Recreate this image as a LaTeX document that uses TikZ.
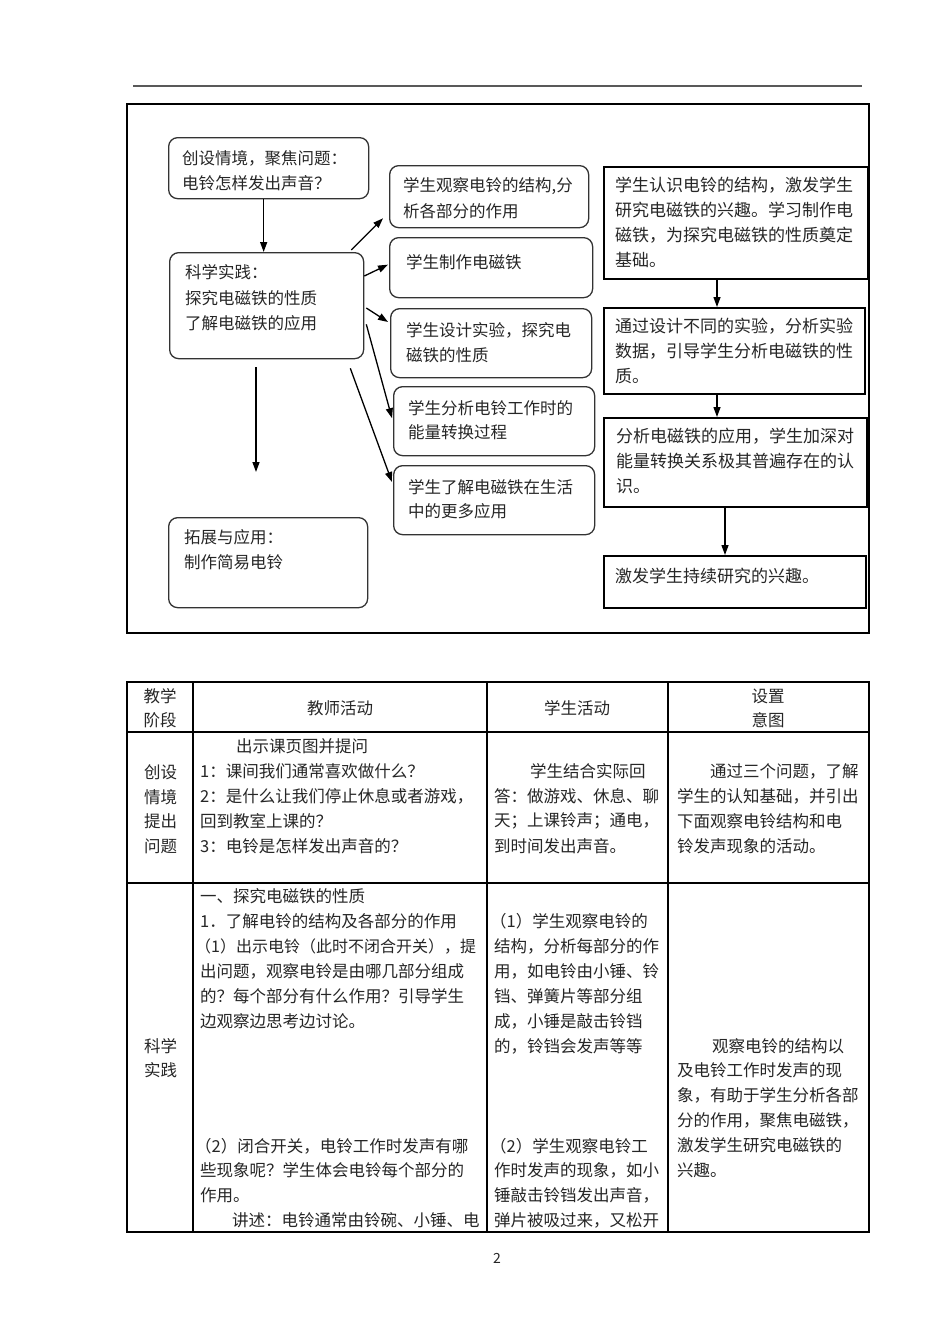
\documentclass[tikz,border=0pt]{standalone}
\usepackage{fontspec}
\setmainfont{Noto Sans CJK SC}
\usetikzlibrary{arrows.meta,calc}
\newcounter{lnc}
\newcommand\Ln[4][16.5]{\stepcounter{lnc}\node[txt,font=\fontsize{#1}{25}\selectfont] (ln\thelnc) at (#2,#3) {#4};}
\begin{document}
\begin{tikzpicture}[x=1pt,y=-1pt,
  txt/.style={anchor=west,inner sep=0pt,text=black!85},
  rbox/.style={draw=black!80,line width=1.3pt,rounded corners=9pt,anchor=north west,inner sep=0pt},
  sbox/.style={draw=black,line width=1.5pt,anchor=north west,inner sep=0pt},
  arr/.style={line width=1.3pt,-{Triangle[length=10pt,width=7pt]}},
  grid/.style={line width=1.2pt,draw=black}]
\useasboundingbox (0,0) rectangle (950,1344);
\fill[white] (0,0) rectangle (950,1344);
% header rule
\draw[line width=2pt,black!65] (133,86) -- (862,86);
% frame
\draw[line width=1.2pt] (127,104) rectangle (869,633);

% rounded boxes (left)
\node[rbox,minimum width=200pt,minimum height=61pt] (A) at (168,137) {};
\node[rbox,minimum width=194pt,minimum height=106pt] (B) at (169,252) {};
\node[rbox,minimum width=199pt,minimum height=90pt] (E) at (168,517) {};
% rounded boxes (middle)
\node[rbox,minimum width=199pt,minimum height=62pt] (C1) at (389,165) {};
\node[rbox,minimum width=203pt,minimum height=60pt] (C2) at (389,237) {};
\node[rbox,minimum width=201pt,minimum height=69pt] (C3) at (390,308) {};
\node[rbox,minimum width=201pt,minimum height=69pt] (C4) at (393,386) {};
\node[rbox,minimum width=201pt,minimum height=69pt] (C5) at (393,465) {};
% square boxes (right)
\node[sbox,minimum width=264pt,minimum height=112pt] (R1) at (603,166) {};
\node[sbox,minimum width=261pt,minimum height=86pt] (R2) at (603,307) {};
\node[sbox,minimum width=263pt,minimum height=89pt] (R3) at (603,417) {};
\node[sbox,minimum width=262pt,minimum height=52pt] (R4) at (603,555) {};

% texts in boxes
\Ln{182}{158}{创设情境，聚焦问题：}
\Ln{182}{183}{电铃怎样发出声音？}
\Ln{185}{272}{科学实践：}
\Ln{185}{298}{探究电磁铁的性质}
\Ln{185}{323}{了解电磁铁的应用}
\Ln{184}{537}{拓展与应用：}
\Ln{184}{562}{制作简易电铃}
\Ln{403}{186}{学生观察电铃的结构,分}
\Ln{403}{211}{析各部分的作用}
\Ln{406}{262}{学生制作电磁铁}
\Ln{406}{330}{学生设计实验，探究电}
\Ln{406}{355}{磁铁的性质}
\Ln{408}{408}{学生分析电铃工作时的}
\Ln{408}{432}{能量转换过程}
\Ln{408}{487}{学生了解电磁铁在生活}
\Ln{408}{511}{中的更多应用}
\Ln[17]{615}{185}{学生认识电铃的结构，激发学生}
\Ln[17]{615}{210}{研究电磁铁的兴趣。学习制作电}
\Ln[17]{615}{235}{磁铁，为探究电磁铁的性质奠定}
\Ln[17]{615}{260}{基础。}
\Ln[17]{615}{326}{通过设计不同的实验，分析实验}
\Ln[17]{615}{351}{数据，引导学生分析电磁铁的性}
\Ln[17]{615}{376}{质。}
\Ln[17]{616}{436}{分析电磁铁的应用，学生加深对}
\Ln[17]{616}{461}{能量转换关系极其普遍存在的认}
\Ln[17]{616}{486}{识。}
\Ln[17]{615}{576}{激发学生持续研究的兴趣。}

% arrows
\draw[arr] ($(A.south)+(-5,0)$) -- ($(B.north)+(-3,0)$);
\draw[arr] ($(B.north east)+(-13,-2)$) -- ($(C1.south west)+(-6,-10)$);
\draw[arr] ($(B.north east)+(0,24)$) -- ($(C2.west)+(-1,-3)$);
\draw[arr] ($(B.north east)+(2,56)$) -- ($(C3.north west)+(-2,14)$);
\draw[arr] ($(B.south east)+(2,-35)$) -- ($(C4.west)+(-1,-3)$);
\coordinate (b1) at ($(B.south east)+(-14,9)$);
\draw[arr] (b1) -- ($(C5.north west)+(-1,17)$);
\coordinate (d1) at (256,367);
\coordinate (d2) at (256,472);
\draw[arr] (d1) -- (d2);
\draw[arr] (R1.south -| 717,0) -- (R2.north -| 717,0);
\draw[arr] (R2.south -| 717,0) -- (R3.north -| 717,0);
\draw[arr] (R3.south -| 725,0) -- (R4.north -| 725,0);

% table
\draw[grid] (127,682) rectangle (869,1232);
\draw[grid] (193,682) -- (193,1232);
\draw[grid] (487,682) -- (487,1232);
\draw[grid] (668,682) -- (668,1232);
\draw[grid] (127,732) -- (869,732);
\draw[grid] (127,883) -- (869,883);

\node[txt,anchor=center,font=\fontsize{16.5}{25}\selectfont] (h1a) at (160,696) {教学};
\node[txt,anchor=center,font=\fontsize{16.5}{25}\selectfont] (h1b) at (160,720) {阶段};
\node[txt,anchor=center,font=\fontsize{16.5}{25}\selectfont] (h2) at (340,708) {教师活动};
\node[txt,anchor=center,font=\fontsize{16.5}{25}\selectfont] (h3) at (577,708) {学生活动};
\node[txt,anchor=center,font=\fontsize{16.5}{25}\selectfont] (h4a) at (768,696) {设置};
\node[txt,anchor=center,font=\fontsize{16.5}{25}\selectfont] (h4b) at (768,720) {意图};

% row 1
\Ln{144}{772}{创设}
\Ln{144}{797}{情境}
\Ln{144}{821}{提出}
\Ln{144}{846}{问题}
\Ln{236}{746}{出示课页图并提问}
\Ln{200}{771}{1：课间我们通常喜欢做什么？}
\Ln{200}{796}{2：是什么让我们停止休息或者游戏，}
\Ln{200}{821}{回到教室上课的？}
\Ln{200}{846}{3：电铃是怎样发出声音的？}
\Ln{530}{771}{学生结合实际回}
\Ln{494}{796}{答：做游戏、休息、聊}
\Ln{494}{821}{天；上课铃声；通电，}
\Ln{494}{846}{到时间发出声音。}
\Ln{710}{771}{通过三个问题，了解}
\Ln{677}{796}{学生的认知基础，并引出}
\Ln{677}{821}{下面观察电铃结构和电}
\Ln{677}{846}{铃发声现象的活动。}

% row 2
\Ln{144}{1046}{科学}
\Ln{144}{1070}{实践}
\Ln{200}{896}{一、探究电磁铁的性质}
\Ln{200}{921}{1．了解电铃的结构及各部分的作用}
\Ln[16]{195}{946}{（1）出示电铃（此时不闭合开关），提}
\Ln{200}{971}{出问题，观察电铃是由哪几部分组成}
\Ln{200}{996}{的？每个部分有什么作用？引导学生}
\Ln{200}{1021}{边观察边思考边讨论。}
\Ln{195}{1146}{（2）闭合开关，电铃工作时发声有哪}
\Ln{200}{1170}{些现象呢？学生体会电铃每个部分的}
\Ln{200}{1195}{作用。}
\Ln{232}{1220}{讲述：电铃通常由铃碗、小锤、电}
\Ln{490}{921}{（1）学生观察电铃的}
\Ln{494}{946}{结构，分析每部分的作}
\Ln{494}{971}{用，如电铃由小锤、铃}
\Ln{494}{996}{铛、弹簧片等部分组}
\Ln{494}{1021}{成，小锤是敲击铃铛}
\Ln{494}{1046}{的，铃铛会发声等等}
\Ln{490}{1146}{（2）学生观察电铃工}
\Ln{494}{1170}{作时发声的现象，如小}
\Ln{494}{1195}{锤敲击铃铛发出声音，}
\Ln{494}{1220}{弹片被吸过来，又松开}
\Ln{712}{1046}{观察电铃的结构以}
\Ln{677}{1070}{及电铃工作时发声的现}
\Ln{677}{1095}{象，有助于学生分析各部}
\Ln{677}{1120}{分的作用，聚焦电磁铁，}
\Ln{677}{1145}{激发学生研究电磁铁的}
\Ln{677}{1170}{兴趣。}

\node[txt,anchor=center,font=\fontsize{14}{20}\selectfont] (pg) at (497,1258) {2};
\end{tikzpicture}
\end{document}
